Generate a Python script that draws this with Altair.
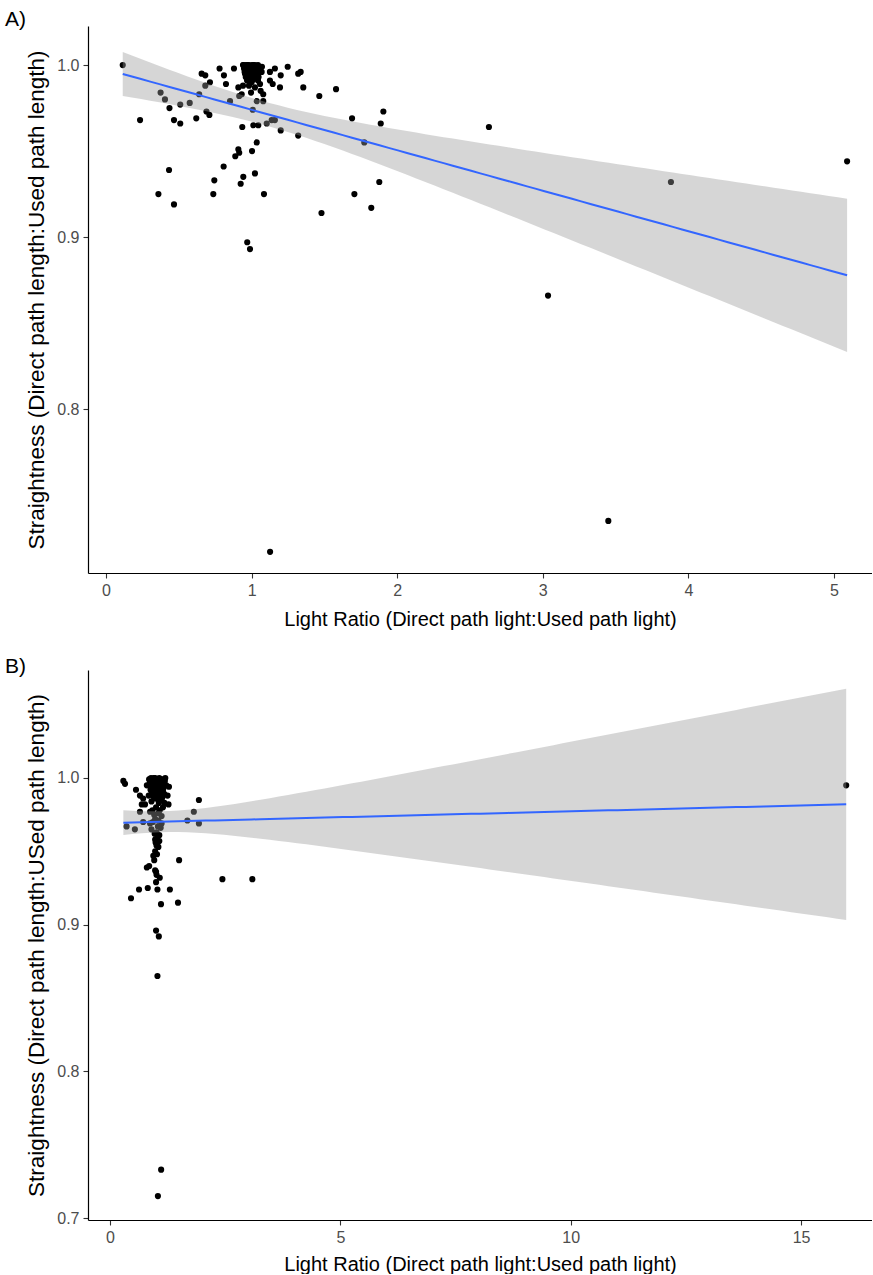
import altair as alt
import numpy as np
import pandas as pd

# ---------------- Panel A data (Light ratio vs straightness) ----------------
a_x = [0.115, 0.234, 0.375, 0.405, 0.436, 0.510, 0.467, 0.510, 0.575, 0.620,
       0.640, 0.657, 0.682, 0.682, 0.714, 0.690, 0.710, 0.780, 0.810, 0.824,
       0.879, 0.852, 0.915, 0.936, 0.909, 0.932,
       0.941, 0.962, 0.982, 1.003, 1.023, 1.044, 0.948, 0.975, 1.010, 1.037,
       0.955, 0.989, 1.023, 1.058, 0.969, 1.003, 1.044, 0.982, 1.023, 0.941, 1.071,
       0.945, 0.958, 0.972, 0.985, 0.998, 1.012, 1.028, 1.040, 1.052, 0.952,
       0.966, 0.979, 0.993, 1.006, 1.019, 1.033, 0.960, 0.990, 1.015, 1.048, 1.000,
       1.069, 1.126, 1.160, 1.248, 1.200, 1.320, 1.337, 1.355, 1.465, 1.580,
       1.126, 1.145, 1.195, 1.058, 1.062, 1.080, 0.996, 1.035, 1.008, 1.080,
       1.012, 1.046, 1.104, 1.138, 1.160, 1.200, 1.320, 1.035, 1.003,
       0.909, 0.888, 0.915, 0.808, 1.023, 0.943, 0.925, 0.744, 0.737, 1.085,
       0.433, 0.360, 0.467, 0.970, 0.989, 1.480, 1.706, 1.822, 1.877, 1.690,
       1.905, 1.887, 1.774, 2.630, 3.880, 5.090, 3.036, 3.450, 1.127]
a_y = [1.000, 0.968, 0.984, 0.980, 0.975, 0.977, 0.968, 0.966, 0.978, 0.969,
       0.983, 0.995, 0.994, 0.988, 0.990, 0.973, 0.971, 0.998, 0.994, 0.989,
       0.998, 0.979, 0.982, 0.964, 0.987, 0.983,
       1.000, 1.000, 1.000, 1.000, 1.000, 1.000, 0.998, 0.997, 0.997, 0.998,
       0.995, 0.995, 0.994, 0.996, 0.991, 0.991, 0.991, 0.988, 0.987, 0.988, 0.999,
       1.000, 0.999, 1.000, 0.999, 0.998, 1.000, 0.999, 0.997, 0.998, 0.996,
       0.997, 0.996, 0.996, 0.995, 0.996, 0.994, 0.993, 0.993, 0.992, 0.993, 0.990,
       0.996, 0.996, 0.998, 0.999, 0.994, 0.995, 0.996, 0.987, 0.982, 0.986,
       0.991, 0.989, 0.987, 0.989, 0.985, 0.983, 0.984, 0.979, 0.974, 0.979,
       0.965, 0.965, 0.966, 0.968, 0.968, 0.962, 0.959, 0.955, 0.950,
       0.951, 0.947, 0.949, 0.941, 0.937, 0.935, 0.931, 0.933, 0.925, 0.925,
       0.939, 0.925, 0.919, 0.897, 0.893, 0.914, 0.925, 0.917, 0.932, 0.969,
       0.973, 0.966, 0.955, 0.964, 0.932, 0.944, 0.866, 0.735, 0.717]

# ---------------- Panel B data ----------------
b_x = [0.29, 0.326, 0.564, 0.65, 0.72, 0.69, 0.76, 0.65, 0.36, 0.54,
       0.80, 0.85, 0.90, 0.95, 1.00, 1.05, 1.10, 1.15, 1.22, 1.28,
       0.88, 0.93, 0.98, 1.03, 1.08, 1.13, 1.18, 0.84, 0.95, 1.02,
       1.12, 1.25, 0.90, 1.06,
       0.86, 0.89, 0.92, 0.95, 0.98, 1.01, 1.04, 1.07, 1.10, 1.13,
       1.16, 1.19, 0.88, 0.91, 0.94, 0.97, 1.00, 1.03, 1.06, 1.09,
       1.12, 1.15, 0.90, 0.96, 1.02, 1.08, 1.14, 0.99, 1.05, 1.11,
       1.27, 0.87, 1.05, 0.92, 1.00, 0.72, 0.87, 1.12, 0.98, 1.05,
       0.90, 1.01, 1.10, 0.98, 1.01, 1.05, 0.98, 0.94, 1.03, 1.50,
       1.93, 1.82, 1.68, 1.93, 0.80, 0.85, 0.98, 1.00, 1.01, 1.08,
       1.00, 0.63, 0.82, 1.03, 1.30, 0.456, 1.107, 1.476, 2.44, 3.09,
       1.00, 1.06, 1.03, 1.11, 1.04, 15.98,
       0.96, 1.08, 1.15, 0.93, 1.12, 1.18, 0.97, 1.07, 1.04, 0.99,
       1.07, 1.02, 0.96, 1.10, 0.86, 1.20, 1.00, 1.16, 0.92, 1.04]
b_y = [0.998, 0.996, 0.992, 0.988, 0.986, 0.982, 0.982, 0.977, 0.967, 0.965,
       0.995, 0.999, 0.997, 1.000, 0.998, 0.996, 0.999, 0.997, 0.995, 0.994,
       0.992, 0.994, 0.991, 0.993, 0.990, 0.992, 0.989, 0.988, 0.987, 0.986,
       0.985, 0.988, 0.984, 0.983,
       0.999, 1.000, 0.998, 0.999, 1.000, 0.999, 0.998, 1.000, 0.997, 0.999,
       0.996, 0.998, 0.994, 0.995, 0.996, 0.993, 0.995, 0.994, 0.992, 0.995,
       0.993, 0.991, 0.989, 0.990, 0.988, 0.990, 0.987, 0.986, 0.987, 0.985,
       0.982, 0.977, 0.976, 0.978, 0.980, 0.970, 0.969, 0.969, 0.972, 0.971,
       0.965, 0.963, 0.966, 0.958, 0.954, 0.953, 0.950, 0.947, 0.960, 0.944,
       0.985, 0.977, 0.971, 0.969, 0.939, 0.940, 0.937, 0.936, 0.934, 0.932,
       0.929, 0.924, 0.925, 0.924, 0.924, 0.918, 0.914, 0.915, 0.931, 0.931,
       0.896, 0.892, 0.865, 0.733, 0.715, 0.995,
       0.975, 0.978, 0.980, 0.970, 0.974, 0.983, 0.962, 0.961, 0.967, 0.956,
       0.957, 0.948, 0.944, 0.986, 0.996, 1.000, 0.994, 0.993, 0.990, 0.989]

# axis tick values
a_xticks = [0, 1, 2, 3, 4, 5]
a_yticks = [0.8, 0.9, 1.0]
b_xticks = [0, 5, 10, 15]
b_yticks = [0.7, 0.8, 0.9, 1.0]

X_TITLE = "Light Ratio (Direct path light:Used path light)"
A_YTITLE = "Straightness (Direct path length:Used path length)"
B_YTITLE = "Straightness (Direct path length:USed path length)"

FONT = "Liberation Sans, Arial, sans-serif"


def lm_band(x, y, npts=80, t=1.98):
    """Linear model fit with 95% confidence band, as geom_smooth(method='lm')."""
    x = np.asarray(x, float)
    y = np.asarray(y, float)
    n = len(x)
    xb = x.mean()
    sxx = ((x - xb) ** 2).sum()
    b = ((x - xb) * (y - y.mean())).sum() / sxx
    a = y.mean() - b * xb
    s = np.sqrt(((y - a - b * x) ** 2).sum() / (n - 2))
    xs = np.linspace(x.min(), x.max(), npts)
    fit = a + b * xs
    se = s * np.sqrt(1.0 / n + (xs - xb) ** 2 / sxx)
    return pd.DataFrame({"x": xs, "fit": fit, "lo": fit - t * se, "hi": fit + t * se})


def panel(xv, yv, xdom, ydom, xticks, yticks, ytitle, tag, w, h, toff, xtpad):
    pts_df = pd.DataFrame({"x": xv, "y": yv})
    band_df = lm_band(xv, yv)
    xs = alt.Scale(domain=xdom, nice=False, zero=False)
    ys = alt.Scale(domain=ydom, nice=False, zero=False)
    xax = alt.Axis(values=xticks, format="d", titlePadding=xtpad)
    yax = alt.Axis(values=yticks, format=".1f")
    pts = alt.Chart(pts_df).mark_circle(size=38, color="black", opacity=1).encode(
        x=alt.X("x:Q", scale=xs, axis=xax, title=X_TITLE),
        y=alt.Y("y:Q", scale=ys, axis=yax, title=ytitle),
    )
    band = alt.Chart(band_df).mark_area(color="#999999", opacity=0.4).encode(
        x=alt.X("x:Q", scale=xs, title=X_TITLE),
        y=alt.Y("lo:Q", scale=ys, title=ytitle),
        y2="hi:Q",
    )
    line = alt.Chart(band_df).mark_line(color="#3366FF", strokeWidth=2).encode(
        x=alt.X("x:Q", scale=xs, title=X_TITLE),
        y=alt.Y("fit:Q", scale=ys, title=ytitle),
    )
    return alt.layer(pts, band, line).properties(
        width=w,
        height=h,
        title=alt.TitleParams(
            text=tag, anchor="start", frame="group", dx=-83, offset=toff,
            fontSize=21, fontWeight="normal", font=FONT, color="black",
            baseline="alphabetic",
        ),
    )


pa = panel(a_x, a_y, [-0.1236, 5.261], [0.7047, 1.0227], a_xticks, a_yticks,
           A_YTITLE, "A)", 784, 547, -21, 11)
pb = panel(b_x, b_y, [-0.4775, 16.54], [0.6987, 1.0736], b_xticks, b_yticks,
           B_YTITLE, "B)", 784, 550, -24, 9)

chart = (
    alt.vconcat(pa, pb, spacing=27)
    .properties(padding={"left": 5, "top": 9, "right": 0, "bottom": 0})
    .configure_view(stroke=None)
    .configure_axis(
        grid=False,
        domainColor="black",
        domainWidth=1.2,
        tickColor="#333333",
        tickSize=5,
        tickWidth=1.1,
        labelColor="#4D4D4D",
        labelFont=FONT,
        labelFontSize=16,
        labelPadding=4,
        titleColor="black",
        titleFontWeight="normal",
        titleFont=FONT,
    )
    .configure_axisX(titleFontSize=20)
    .configure_axisY(titleFontSize=22.5, titlePadding=8)
)

chart.save("out.html", embed_options={"renderer": "svg", "actions": False})
